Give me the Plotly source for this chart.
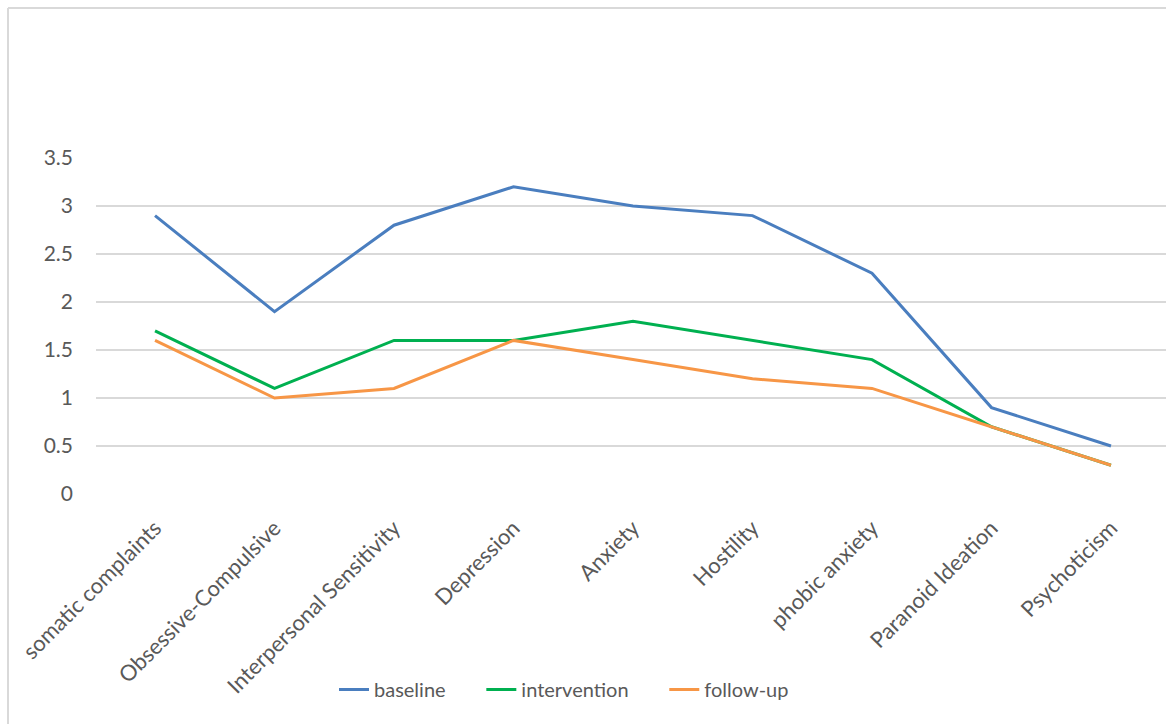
import plotly.graph_objects as go

categories = ["somatic complaints", "Obsessive-Compulsive", "Interpersonal Sensitivity",
              "Depression", "Anxiety", "Hostility", "phobic anxiety",
              "Paranoid Ideation", "Psychoticism"]
baseline = [2.9, 1.9, 2.8, 3.2, 3.0, 2.9, 2.3, 0.9, 0.5]
intervention = [1.7, 1.1, 1.6, 1.6, 1.8, 1.6, 1.4, 0.7, 0.3]
follow_up = [1.6, 1.0, 1.1, 1.6, 1.4, 1.2, 1.1, 0.7, 0.3]
y_ticks = [0, 0.5, 1, 1.5, 2, 2.5, 3, 3.5]
y_ticktext = ["0", "0.5", "1", "1.5", "2", "2.5", "3", "3.5"]
series_names = ["baseline", "intervention", "follow-up"]

W, H = 1166, 724
L, R_, T, B = 96, 0, 158, 230
plot_w = W - L - R_
plot_h = H - T - B

FONT = "Lato"
TXT = "#595959"
PAD = "\u00a0" * 6

fig = go.Figure()
for name, vals, col in zip(series_names, [baseline, intervention, follow_up],
                           ["#4A7EBF", "#00B050", "#F79646"]):
    fig.add_trace(go.Scatter(x=categories, y=vals, mode="lines",
                             name=name + (PAD if name != "follow-up" else ""),
                             line=dict(color=col, width=3)))

def px2paper_x(px):
    return (px - L) / plot_w

def px2paper_y(py):
    return (H - B - py) / plot_h

# chart frame (light gray border, clipped at right/bottom)
fig.add_shape(type="line", xref="paper", yref="paper",
              x0=px2paper_x(8), x1=px2paper_x(1200), y0=px2paper_y(8), y1=px2paper_y(8),
              line=dict(color="#D9D9D9", width=2))
fig.add_shape(type="line", xref="paper", yref="paper",
              x0=px2paper_x(8), x1=px2paper_x(8), y0=px2paper_y(8), y1=px2paper_y(800),
              line=dict(color="#D9D9D9", width=2))

spacing = 119.44
fig.update_layout(
    width=W, height=H,
    margin=dict(l=L, r=R_, t=T, b=B, pad=0),
    paper_bgcolor="white", plot_bgcolor="white",
    font=dict(family=FONT, size=21, color=TXT),
    showlegend=True,
    legend=dict(orientation="h", x=px2paper_x(334), xanchor="left",
                y=px2paper_y(670), yanchor="top",
                font=dict(family=FONT, size=20, color=TXT),
                itemwidth=30, tracegroupgap=0),
    xaxis=dict(type="category", range=[-(155 - L) / spacing, 8 + (W - 1111) / spacing],
               showgrid=False, showline=False, zeroline=False, ticks="",
               tickangle=-45, ticklabelstandoff=16,
               tickfont=dict(family=FONT, size=22, color=TXT)),
    yaxis=dict(range=[0, 3.5], tickvals=y_ticks, ticktext=y_ticktext,
               showgrid=True, gridcolor="#D9D9D9", gridwidth=1.5,
               zeroline=False, showline=False, ticks="",
               ticklabelstandoff=22,
               tickfont=dict(family=FONT, size=21, color=TXT)),
)

fig.write_html("out.html")
